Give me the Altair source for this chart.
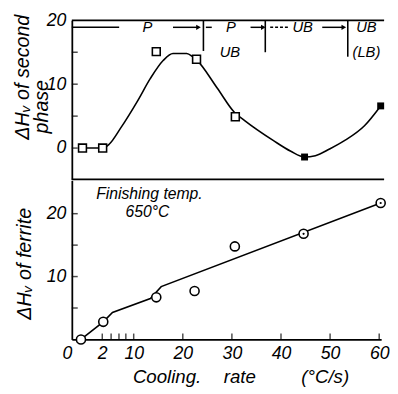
import altair as alt
import pandas as pd

FONT = "Liberation Sans"

# ---------------- data ----------------
x_label_values = [0, 2, 10, 20, 30, 40, 50, 60]
x_tick_values = [2, 4.25, 6.25, 8, 10, 20, 30, 40, 50, 60]
top_y_labels = [0, 10, 20]
top_y_ticks = [0, 5, 10, 15]
bot_y_labels = [10, 20]
bot_y_ticks = [5, 10, 15, 20]

# upper panel: dHv of second phase
sp_open_x = [0.7, 2.1, 14.6, 22.8, 30.7]
sp_open_y = [0.0, 0.0, 15.1, 13.9, 4.9]
sp_fill_x = [44.8, 60.3]
sp_fill_y = [-1.4, 6.6]
sp_curve_x = [0.7, 2.1, 3.75, 6.75, 10.8, 13.4, 16.0, 18.0, 20.8, 22.0, 22.8,
              27.0, 30.5, 32.6, 38.4, 42.0, 44.8, 47.0, 50.0, 53.0, 57.0, 60.3]
sp_curve_y = [0.0, 0.0, 0.6, 3.2, 7.4, 10.9, 13.7, 14.8, 14.8, 14.3, 13.8,
              9.4, 5.6, 4.3, 1.2, -0.5, -1.4, -1.2, -0.1, 1.2, 3.5, 6.6]

# lower panel: dHv of ferrite
fe_x = [0.6, 2.25, 14.6, 22.4, 30.6, 44.6, 60.3]
fe_y = [0.0, 2.8, 6.7, 7.7, 14.8, 16.8, 21.7]
fe_dot_x = [44.6, 60.3]
fe_dot_y = [16.8, 21.7]
fe_curve_x = [0.6, 2.25, 4.6, 13.4, 15.6, 60.3]
fe_curve_y = [0.0, 2.8, 4.3, 6.5, 8.4, 21.7]

# structure annotations (upper panel)
zone_text = ["P", "P", "UB", "UB", "UB", "(LB)"]
zone_x = [12.8, 29.8, 29.6, 44.4, 57.4, 57.4]
zone_y = [18.9, 18.9, 15.1, 18.9, 18.9, 15.1]
seg_x1 = [0, 18.0, 24.7, 33.8, 48.4]
seg_x2 = [6.3, 23.2, 25.9, 36.4, 52.8]
dash_x1 = [37.8]
dash_x2 = [41.4]
arrow_x = [23.2, 36.4, 52.8]
vline_x = [24.2, 36.8, 53.6]
vline_bottom = [15.2, 15.0, 14.3]

fin_text = ["Finishing temp.", "650°C"]
fin_x = [13.2, 12.8]
fin_y = [23.1, 20.3]

top_title_1 = "ΔHᵥ of second"
top_title_2 = "phase"
bot_title = "ΔHᵥ of ferrite"
x_title_parts = ["Cooling.", "rate", "(°C/s)"]
x_title_pos = [97, 171, 258]

# ---------------- scales ----------------
W = 315
H_TOP = 162
H_BOT = 162
xs = alt.Scale(domain=[0, 2, 10, 60.4], range=[0, 31, 63, W], nice=False, zero=False)
ys_top = alt.Scale(domain=[-4.9, 20], nice=False, zero=False)
ys_bot = alt.Scale(domain=[0, 25.3], nice=False, zero=False)

LBL = dict(labelFont=FONT, labelFontStyle="italic", labelFontSize=18, labelColor="black",
           labelFlush=False, labelOverlap=False)

top_axis = alt.Axis(values=top_y_labels, ticks=False, grid=False, title=None, labelPadding=6,
                    domainColor="black", domainWidth=1.8, **LBL)
bot_axis = alt.Axis(values=bot_y_labels, ticks=False, grid=False, title=None, labelPadding=6,
                    domainColor="black", domainWidth=1.8, **LBL)
x_axis = alt.Axis(values=x_label_values, ticks=False, grid=False, title=None, labelPadding=5,
                  domainColor="black", domainWidth=1.8,
                  labelAlign={"condition": {"test": "datum.value === 0", "value": "right"}, "value": "center"},
                  **LBL)


def XT(field="x"):
    return alt.X(f"{field}:Q", scale=xs, axis=None)


def YT(field="y"):
    return alt.Y(f"{field}:Q", scale=ys_top, axis=top_axis)


def YB(field="y"):
    return alt.Y(f"{field}:Q", scale=ys_bot, axis=bot_axis)


def one(text):
    return pd.DataFrame({"t": [text]})


TXT = dict(font=FONT, fontStyle="italic", color="black")

# ---------------- upper panel ----------------
sp_curve = pd.DataFrame({"x": sp_curve_x, "y": sp_curve_y})
sp_open = pd.DataFrame({"x": sp_open_x, "y": sp_open_y})
sp_fill = pd.DataFrame({"x": sp_fill_x, "y": sp_fill_y})
zones = pd.DataFrame({"t": zone_text, "x": zone_x, "y": zone_y})
segs = pd.DataFrame({"x": seg_x1, "x2": seg_x2, "y": [18.9] * len(seg_x1)})
dsegs = pd.DataFrame({"x": dash_x1, "x2": dash_x2, "y": [18.9] * len(dash_x1)})
arrows = pd.DataFrame({"x": arrow_x, "y": [18.9] * len(arrow_x)})
vlines = pd.DataFrame({"x": vline_x, "y": [20] * len(vline_x), "y2": vline_bottom})
tticks = pd.DataFrame({"y": top_y_ticks})
border = pd.DataFrame({"t": ["border"]})

top_layers = [
    alt.Chart(sp_curve).mark_line(interpolate="monotone", color="black", strokeWidth=1.6)
    .encode(x=XT(), y=YT()),
    alt.Chart(tticks).mark_tick(orient="horizontal", size=6, thickness=1.5, color="black")
    .encode(y=YT(), x=alt.value(3)),
    alt.Chart(segs).mark_rule(color="black", strokeWidth=1.5)
    .encode(x=XT(), x2="x2:Q", y=YT()),
    alt.Chart(dsegs).mark_rule(color="black", strokeWidth=1.5, strokeDash=[3, 2])
    .encode(x=XT(), x2="x2:Q", y=YT()),
    alt.Chart(arrows).mark_point(shape="triangle-right", filled=True, size=30, color="black", opacity=1)
    .encode(x=XT(), y=YT()),
    alt.Chart(vlines).mark_rule(color="black", strokeWidth=1.6)
    .encode(x=XT(), y=YT(), y2="y2:Q"),
    alt.Chart(zones).mark_text(fontSize=15, **TXT)
    .encode(x=XT(), y=YT(), text="t:N"),
    alt.Chart(sp_open).mark_square(size=64, fill="white", stroke="black", strokeWidth=1.6, opacity=1)
    .encode(x=XT(), y=YT()),
    alt.Chart(sp_fill).mark_square(size=50, color="black", opacity=1)
    .encode(x=XT(), y=YT()),
    alt.Chart(border).mark_rule(color="black", strokeWidth=1.8)
    .encode(x=alt.value(0), x2=alt.value(W + 3), y=alt.value(0)),
    alt.Chart(border).mark_rule(color="black", strokeWidth=1.8)
    .encode(x=alt.value(0), x2=alt.value(W + 3), y=alt.value(H_TOP)),
    alt.Chart(one(top_title_1)).mark_text(fontSize=20, angle=270, **TXT)
    .encode(x=alt.value(-50), y=alt.value(58), text="t:N"),
    alt.Chart(one(top_title_2)).mark_text(fontSize=20, angle=270, **TXT)
    .encode(x=alt.value(-30), y=alt.value(88), text="t:N"),
]
top = alt.layer(*top_layers).properties(width=W, height=H_TOP)

# ---------------- lower panel ----------------
fe_curve = pd.DataFrame({"x": fe_curve_x, "y": fe_curve_y})
fe = pd.DataFrame({"x": fe_x, "y": fe_y})
fe_dot = pd.DataFrame({"x": fe_dot_x, "y": fe_dot_y})
fin = pd.DataFrame({"t": fin_text, "x": fin_x, "y": fin_y})
bticks = pd.DataFrame({"y": bot_y_ticks})
xticks = pd.DataFrame({"x": x_tick_values})
xtitle = pd.DataFrame({"t": x_title_parts, "px": x_title_pos})

XB = alt.X("x:Q", scale=xs, axis=x_axis)

bot_layers = [
    alt.Chart(fe_curve).mark_line(interpolate="linear", color="black", strokeWidth=1.6)
    .encode(x=XB, y=YB()),
    alt.Chart(bticks).mark_tick(orient="horizontal", size=6, thickness=1.5, color="black")
    .encode(y=YB(), x=alt.value(3)),
    alt.Chart(xticks).mark_tick(orient="vertical", size=6, thickness=1.5, color="black")
    .encode(x=XB, y=alt.value(H_BOT - 3)),
    alt.Chart(fe).mark_point(shape="circle", size=85, fill="white", stroke="black",
                             strokeWidth=1.6, opacity=1, filled=False, fillOpacity=1)
    .encode(x=XB, y=YB()),
    alt.Chart(fe_dot).mark_point(shape="circle", size=5, filled=True, color="black", opacity=1)
    .encode(x=XB, y=YB()),
    alt.Chart(fin).mark_text(fontSize=16, **TXT)
    .encode(x=XB, y=YB(), text="t:N"),
    alt.Chart(one(bot_title)).mark_text(fontSize=20, angle=270, **TXT)
    .encode(x=alt.value(-48), y=alt.value(85), text="t:N"),
    alt.Chart(xtitle).mark_text(fontSize=19, **TXT)
    .encode(x=alt.X("px:Q", scale=None, axis=None), y=alt.value(200), text="t:N"),
]
bot = alt.layer(*bot_layers).properties(width=W, height=H_BOT)

chart = (
    alt.vconcat(top, bot, spacing=0)
    .configure_view(stroke=None)
    .properties(padding={"left": 5, "top": 0, "right": 0, "bottom": 2}, background="white")
)

chart.save("out.html", embed_options={"renderer": "svg", "actions": False})
